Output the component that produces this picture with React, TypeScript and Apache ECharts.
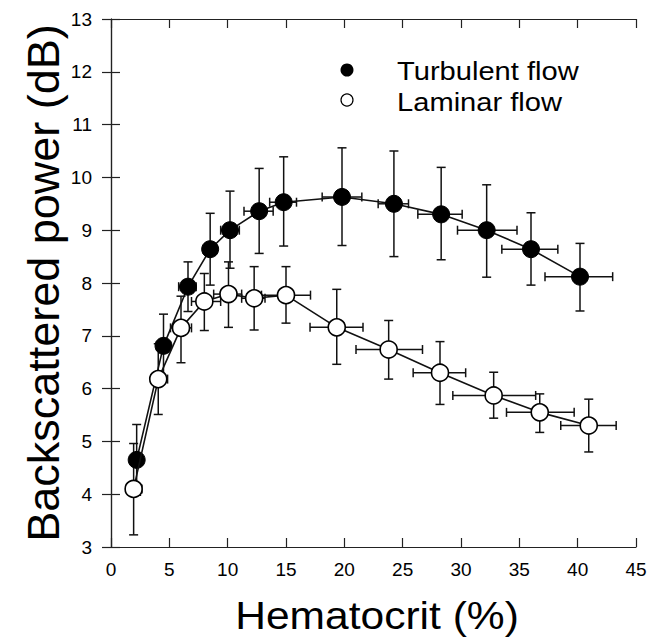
import React, { useEffect, useRef } from "react";
import * as echarts from "echarts";

// Turbulent flow (filled circles)
const turbX = [2.2, 4.5, 6.6, 8.5, 10.2, 12.7, 14.8, 19.8, 24.25, 28.3, 32.2, 36.0, 40.2];
const turbY = [4.65, 6.81, 7.93, 8.64, 9.0, 9.36, 9.53, 9.63, 9.5, 9.3, 9.0, 8.64, 8.12];
const turbYLo = [3.98, 6.2, 7.46, 7.96, 8.28, 8.56, 8.7, 8.71, 8.5, 8.44, 8.11, 7.96, 7.47];
const turbYHi = [5.32, 7.41, 8.4, 9.32, 9.74, 10.17, 10.39, 10.56, 10.5, 10.19, 9.86, 9.33, 8.75];
const turbXLo = [1.9, 3.9, 5.8, 7.9, 9.4, 11.4, 13.6, 18.1, 22.9, 26.3, 29.7, 33.5, 37.2];
const turbXHi = [2.5, 5.1, 7.3, 9.1, 11.0, 13.9, 15.9, 21.5, 25.5, 30.1, 34.8, 38.3, 43.0];

// Laminar flow (open circles)
const lamX = [1.94, 4.05, 6.0, 8.0, 10.07, 12.27, 15.0, 19.35, 23.8, 28.2, 32.8, 36.75, 40.95];
const lamY = [4.1, 6.18, 7.15, 7.65, 7.79, 7.71, 7.77, 7.16, 6.74, 6.3, 5.87, 5.55, 5.3];
const lamYLo = [3.23, 5.51, 6.49, 7.1, 7.16, 7.11, 7.24, 6.46, 6.18, 5.7, 5.44, 5.17, 4.8];
const lamYHi = [4.96, 6.85, 7.75, 8.18, 8.4, 8.31, 8.31, 7.88, 7.29, 6.89, 6.31, 5.9, 5.8];
const lamXLo = [1.5, 3.6, 5.1, 6.9, 8.8, 11.2, 12.9, 17.06, 21.0, 25.9, 29.3, 33.9, 38.55];
const lamXHi = [2.65, 4.85, 6.9, 9.4, 11.2, 13.2, 17.1, 21.6, 26.7, 30.4, 36.4, 39.7, 43.3];

const xTicks = [0, 5, 10, 15, 20, 25, 30, 35, 40, 45];
const yTicks = [3, 4, 5, 6, 7, 8, 9, 10, 11, 12, 13];

const seriesNames = ["Turbulent flow", "Laminar flow"];
const xTitle = "Hematocrit (%)";
const yTitle = "Backscattered power (dB)";

const FONT = "'Liberation Sans', Arial, Helvetica, sans-serif";

function buildErr(xs: number[], ys: number[], ylo: number[], yhi: number[], xlo: number[], xhi: number[]) {
  return xs.map((x, i) => [x, ys[i], ylo[i], yhi[i], xlo[i], xhi[i]]);
}

const renderErr = (_params: any, api: any) => {
  const x = api.value(0);
  const y = api.value(1);
  const p = api.coord([x, y]);
  const top = api.coord([x, api.value(3)]);
  const bot = api.coord([x, api.value(2)]);
  const left = api.coord([api.value(4), y]);
  const right = api.coord([api.value(5), y]);
  const c = 4.5;
  const style = { stroke: "#111", lineWidth: 1.5, fill: null };
  return {
    type: "group",
    children: [
      { type: "line", shape: { x1: p[0], y1: top[1], x2: p[0], y2: bot[1] }, style },
      { type: "line", shape: { x1: p[0] - c, y1: top[1], x2: p[0] + c, y2: top[1] }, style },
      { type: "line", shape: { x1: p[0] - c, y1: bot[1], x2: p[0] + c, y2: bot[1] }, style },
      { type: "line", shape: { x1: left[0], y1: p[1], x2: right[0], y2: p[1] }, style },
      { type: "line", shape: { x1: left[0], y1: p[1] - c, x2: left[0], y2: p[1] + c }, style },
      { type: "line", shape: { x1: right[0], y1: p[1] - c, x2: right[0], y2: p[1] + c }, style },
    ],
  };
};

export default function App() {
  const ref = useRef<HTMLDivElement>(null);
  useEffect(() => {
    if (!ref.current) return;
    const chart = echarts.init(ref.current, undefined, { renderer: "svg" });
    const axisLine = { show: true, lineStyle: { color: "#222", width: 1.2 } };
    const tick = { show: true, inside: true, length: 9, lineStyle: { color: "#222", width: 1.2 } };
    const option: any = {
      animation: false,
      backgroundColor: "#fff",
      grid: { left: 111, right: 15, top: 19, bottom: 94 },
      xAxis: [
        {
          type: "value", min: 0, max: 45, interval: 5, position: "bottom",
          axisLine, axisTick: tick, splitLine: { show: false },
          axisLabel: { show: true, margin: 13, fontSize: 19, color: "#000", fontFamily: FONT,
            formatter: (v: number) => (xTicks.includes(v) ? String(v) : "") },
        },
        {
          type: "value", min: 0, max: 45, interval: 5, position: "top",
          axisLine, axisTick: tick, splitLine: { show: false }, axisLabel: { show: false },
        },
      ],
      yAxis: [
        {
          type: "value", min: 3, max: 13, interval: 1, position: "left",
          axisLine, axisTick: tick, splitLine: { show: false },
          axisLabel: { show: true, margin: 19, fontSize: 19, color: "#000", fontFamily: FONT,
            formatter: (v: number) => (yTicks.includes(v) ? String(v) : "") },
        },
        {
          type: "value", min: 3, max: 13, interval: 1, position: "right",
          axisLine, axisTick: tick, splitLine: { show: false }, axisLabel: { show: false },
        },
      ],
      series: [
        {
          type: "custom", name: seriesNames[0] + " err", renderItem: renderErr,
          data: buildErr(turbX, turbY, turbYLo, turbYHi, turbXLo, turbXHi),
          encode: { x: 0, y: 1 }, z: 1, silent: true,
        },
        {
          type: "custom", name: seriesNames[1] + " err", renderItem: renderErr,
          data: buildErr(lamX, lamY, lamYLo, lamYHi, lamXLo, lamXHi),
          encode: { x: 0, y: 1 }, z: 1, silent: true,
        },
        {
          type: "line", name: seriesNames[0], data: turbX.map((x, i) => [x, turbY[i]]),
          symbol: "circle", symbolSize: 17, z: 3,
          lineStyle: { color: "#111", width: 1.6 },
          itemStyle: { color: "#000", borderColor: "#000", borderWidth: 1 },
        },
        {
          type: "line", name: seriesNames[1], data: lamX.map((x, i) => [x, lamY[i]]),
          symbol: "circle", symbolSize: 17, z: 4,
          lineStyle: { color: "#111", width: 1.6 },
          itemStyle: { color: "#fff", borderColor: "#000", borderWidth: 1.6 },
        },
      ],
      graphic: [
        { type: "circle", shape: { cx: 347, cy: 70, r: 6.5 }, style: { fill: "#000" } },
        { type: "text", x: 397, y: 71, style: { text: seriesNames[0], fontSize: 26, fontFamily: FONT, fill: "#000", textVerticalAlign: "middle" }, scaleX: 1.12 },
        { type: "circle", shape: { cx: 347, cy: 100, r: 6 }, style: { fill: "#fff", stroke: "#000", lineWidth: 1.2 } },
        { type: "text", x: 397, y: 102, style: { text: seriesNames[1], fontSize: 26, fontFamily: FONT, fill: "#000", textVerticalAlign: "middle" }, scaleX: 1.12 },
        { type: "text", x: 377, y: 616, style: { text: xTitle, fontSize: 38, fontFamily: FONT, fill: "#000", textAlign: "center", textVerticalAlign: "middle" }, scaleX: 1.12 },
        { type: "text", x: 43, y: 283, rotation: Math.PI / 2, style: { text: yTitle, fontSize: 45, fontFamily: FONT, fill: "#000", textAlign: "center", textVerticalAlign: "middle" } },
      ],
    };
    chart.setOption(option);
    return () => chart.dispose();
  }, []);
  return <div ref={ref} style={{ width: 651, height: 641, position: "fixed", left: 0, top: 0, background: "#fff" }} />;
}
